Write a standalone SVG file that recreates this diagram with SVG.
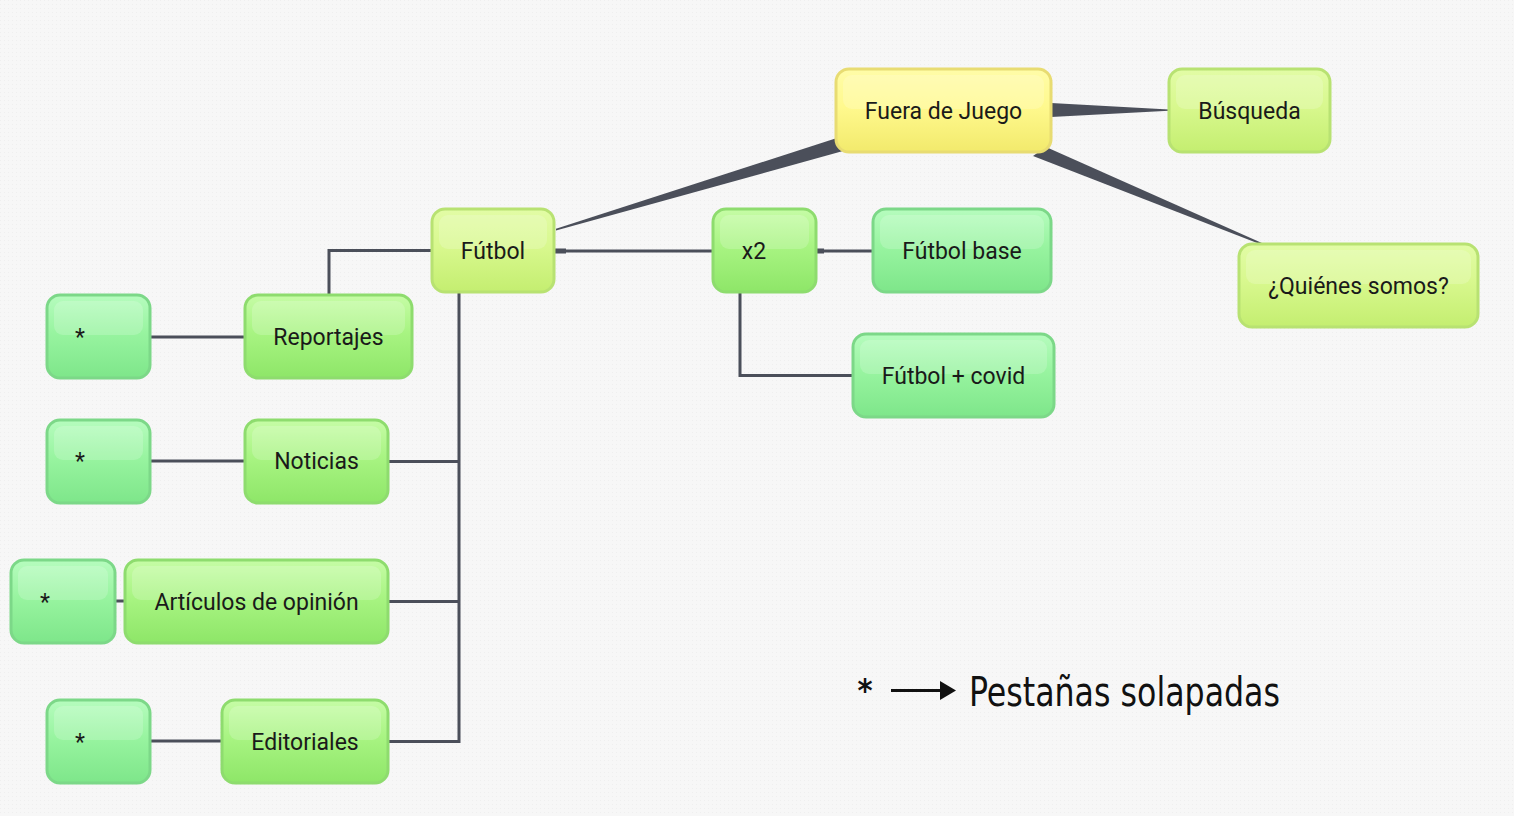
<svg xmlns="http://www.w3.org/2000/svg" width="1514" height="816" viewBox="0 0 1514 816">
<defs>
<linearGradient id="gY" x1="0" y1="0" x2="0" y2="1"><stop offset="0" stop-color="#fffca8"/><stop offset="0.45" stop-color="#fff98e"/><stop offset="1" stop-color="#f2ea6c"/></linearGradient>
<linearGradient id="gL" x1="0" y1="0" x2="0" y2="1"><stop offset="0" stop-color="#e2fca6"/><stop offset="0.45" stop-color="#d8f88e"/><stop offset="1" stop-color="#c4ee70"/></linearGradient>
<linearGradient id="gG" x1="0" y1="0" x2="0" y2="1"><stop offset="0" stop-color="#c6fca6"/><stop offset="0.45" stop-color="#a8f482"/><stop offset="1" stop-color="#8ee668"/></linearGradient>
<linearGradient id="gM" x1="0" y1="0" x2="0" y2="1"><stop offset="0" stop-color="#b6fcbe"/><stop offset="0.45" stop-color="#98f4a0"/><stop offset="1" stop-color="#7ee68a"/></linearGradient>
<pattern id="dots" width="4" height="4" patternUnits="userSpaceOnUse"><rect width="4" height="4" fill="#f7f7f7"/><rect width="1" height="1" fill="#efefef"/></pattern>
</defs>
<style>
.n{stroke-width:3}
.y{fill:url(#gY);stroke:#e8dc72}
.l{fill:url(#gL);stroke:#b8e272}
.g{fill:url(#gG);stroke:#8edc6e}
.m{fill:url(#gM);stroke:#7cd888}
.hl{fill:#ffffff;fill-opacity:0.18}
.t{font-family:Roboto,"Liberation Sans",sans-serif;font-size:23px;fill:#1a1a1a;text-anchor:middle}
.c{fill:none;stroke:#4b4f5a;stroke-width:3}
.w{fill:#4b4f5a}
</style>
<rect width="1514" height="816" fill="url(#dots)"/>
<g id="connectors">
<polygon class="w" points="840,137 843,151 556,230.6 556,228.8"/>
<polygon class="w" points="1051,103 1051,117 1169,110.8 1169,109.4"/>
<polygon class="w" points="1046,147 1033,156 1261,244.6 1263,243.6"/>
<path class="c" d="M554,251 H713"/>
<rect class="w" x="554" y="248.5" width="12" height="5"/>
<path class="c" d="M816,251 H873"/>
<rect class="w" x="816" y="248.5" width="8" height="5"/>
<path class="c" d="M740,292 V375.5 H853"/>
<path class="c" d="M432,250.5 H329 V295"/>
<path class="c" d="M459,292 V741.5 H388"/>
<path class="c" d="M459,461.5 H388"/>
<path class="c" d="M459,601.5 H388"/>
<path class="c" d="M150,337 H245"/>
<path class="c" d="M150,461 H245"/>
<path class="c" d="M115,601 H125"/>
<path class="c" d="M150,741 H222"/>
</g>
<g id="n-fuera"><rect class="n y" x="836" y="69" width="215" height="83" rx="13"/><rect class="hl" x="843" y="75" width="201" height="34" rx="9"/><text class="t" x="943.5" y="119">Fuera de Juego</text></g>
<g id="n-busqueda"><rect class="n l" x="1169" y="69" width="161" height="83" rx="13"/><rect class="hl" x="1176" y="75" width="147" height="34" rx="9"/><text class="t" x="1249.5" y="119">Búsqueda</text></g>
<g id="n-quienes"><rect class="n l" x="1239" y="244" width="239" height="83" rx="13"/><rect class="hl" x="1246" y="250" width="225" height="34" rx="9"/><text class="t" x="1358.5" y="294">¿Quiénes somos?</text></g>
<g id="n-futbol"><rect class="n l" x="432" y="209" width="122" height="83" rx="13"/><rect class="hl" x="439" y="215" width="108" height="34" rx="9"/><text class="t" x="493" y="259">Fútbol</text></g>
<g id="n-x2"><rect class="n g" x="713" y="209" width="103" height="83" rx="13"/><rect class="hl" x="720" y="215" width="89" height="34" rx="9"/><text class="t" x="754" y="259">x2</text></g>
<g id="n-futbolbase"><rect class="n m" x="873" y="209" width="178" height="83" rx="13"/><rect class="hl" x="880" y="215" width="164" height="34" rx="9"/><text class="t" x="962" y="259">Fútbol base</text></g>
<g id="n-covid"><rect class="n m" x="853" y="334" width="201" height="83" rx="13"/><rect class="hl" x="860" y="340" width="187" height="34" rx="9"/><text class="t" x="953.5" y="384">Fútbol + covid</text></g>
<g id="n-reportajes"><rect class="n g" x="245" y="295" width="167" height="83" rx="13"/><rect class="hl" x="252" y="301" width="153" height="34" rx="9"/><text class="t" x="328.5" y="345">Reportajes</text></g>
<g id="n-noticias"><rect class="n g" x="245" y="420" width="143" height="83" rx="13"/><rect class="hl" x="252" y="426" width="129" height="34" rx="9"/><text class="t" x="316.5" y="469">Noticias</text></g>
<g id="n-articulos"><rect class="n g" x="125" y="560" width="263" height="83" rx="13"/><rect class="hl" x="132" y="566" width="249" height="34" rx="9"/><text class="t" x="256.5" y="610">Artículos de opinión</text></g>
<g id="n-editoriales"><rect class="n g" x="222" y="700" width="166" height="83" rx="13"/><rect class="hl" x="229" y="706" width="152" height="34" rx="9"/><text class="t" x="305" y="750">Editoriales</text></g>
<g id="n-star1"><rect class="n m" x="47" y="295" width="103" height="83" rx="13"/><rect class="hl" x="54" y="301" width="89" height="34" rx="9"/><text class="t" x="80" y="345">*</text></g>
<g id="n-star2"><rect class="n m" x="47" y="420" width="103" height="83" rx="13"/><rect class="hl" x="54" y="426" width="89" height="34" rx="9"/><text class="t" x="80" y="469">*</text></g>
<g id="n-star3"><rect class="n m" x="11" y="560" width="104" height="83" rx="13"/><rect class="hl" x="18" y="566" width="90" height="34" rx="9"/><text class="t" x="45" y="610">*</text></g>
<g id="n-star4"><rect class="n m" x="47" y="700" width="103" height="83" rx="13"/><rect class="hl" x="54" y="706" width="89" height="34" rx="9"/><text class="t" x="80" y="750">*</text></g>
<g id="legend">
<text x="865" y="701" font-family="'DejaVu Sans Condensed','DejaVu Sans',sans-serif" font-size="32" font-weight="bold" fill="#111" text-anchor="middle">*</text>
<path d="M891,690.5 H944" fill="none" stroke="#111" stroke-width="3"/>
<polygon points="940,681 956,690.5 940,700" fill="#111"/>
<text x="969" y="706" font-family="'DejaVu Sans Condensed','DejaVu Sans',sans-serif" font-size="40" fill="#111" textLength="311" lengthAdjust="spacingAndGlyphs">Pestañas solapadas</text>
</g>
</svg>
